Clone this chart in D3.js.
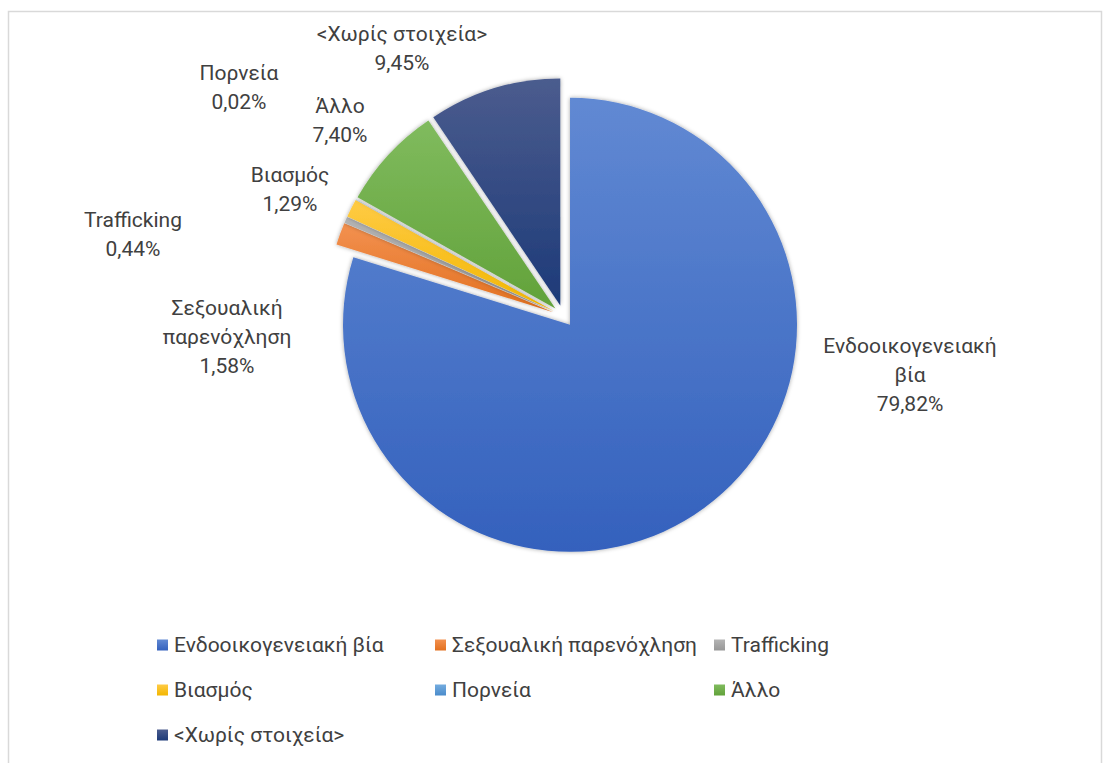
<!DOCTYPE html>
<html>
<head>
<meta charset="utf-8">
<script src="https://cdn.jsdelivr.net/npm/d3@7"></script>
<style>
  html, body { margin: 0; padding: 0; background: #ffffff; }
  svg { display: block; }
  text { font-family: Roboto, "Noto Sans", "DejaVu Sans", sans-serif; fill: #404040; }
</style>
</head>
<body>
<svg id="chart" width="1103" height="763"></svg>
<script>
// ---- data ----
const categories = ["Ενδοοικογενειακή βία", "Σεξουαλική παρενόχληση", "Trafficking", "Βιασμός", "Πορνεία", "Άλλο", "<Χωρίς στοιχεία>"];
const labelNames = [["Ενδοοικογενειακή", "βία"], ["Σεξουαλική", "παρενόχληση"], ["Trafficking"], ["Βιασμός"], ["Πορνεία"], ["Άλλο"], ["<Χωρίς στοιχεία>"]];
const values = [79.82, 1.58, 0.44, 1.29, 0.02, 7.40, 9.45];

// ---- styles / layout (not data) ----
const baseColors = ["#4472C4", "#ED7D31", "#A5A5A5", "#FFC000", "#5B9BD5", "#70AD47", "#264478"];
const topColors  = ["#6189d3", "#f39150", "#b4b4b4", "#ffcb45", "#74acdf", "#80bb5e", "#4b5c8e"];
const botColors  = ["#3461bd", "#e2701f", "#979797", "#f2b600", "#4a8bcb", "#62a23a", "#1d3a78"];
const center = { x: 563.5, y: 316 };
const radius = 227;
const explode = 11;
const labelAnchors = [[910, 353], [227, 315], [133, 227], [290, 182], [239, 80], [340, 113], [402, 41]];
const lineH = 29;
const legendCols = [157, 435, 714];
const legendRows = [645, 690, 735];

const svg = d3.select("#chart");
const defs = svg.append("defs");

baseColors.forEach((c, i) => {
  const g = defs.append("linearGradient").attr("id", "grad" + i)
    .attr("x1", 0).attr("y1", 0).attr("x2", 0).attr("y2", 1);
  g.append("stop").attr("offset", "0%").attr("stop-color", topColors[i]);
  g.append("stop").attr("offset", "100%").attr("stop-color", botColors[i]);
});

const f = defs.append("filter").attr("id", "shadow")
  .attr("x", "-20%").attr("y", "-20%").attr("width", "140%").attr("height", "140%");
f.append("feDropShadow").attr("dx", 0).attr("dy", 0).attr("stdDeviation", 2.2)
  .attr("flood-color", "#000").attr("flood-opacity", 0.35);

// border
svg.append("rect").attr("x", 8.5).attr("y", 11.5).attr("width", 1093).attr("height", 800)
  .attr("fill", "#ffffff").attr("stroke", "#d9d9d9").attr("stroke-width", 1.5);

const pie = d3.pie().value(d => d).sort(null);
const arcs = pie(values);
const arc = d3.arc().innerRadius(0).outerRadius(radius);

const gPie = svg.append("g").attr("transform", `translate(${center.x},${center.y})`);
gPie.selectAll("path").data(arcs).enter().append("path")
  .attr("d", arc)
  .attr("fill", (d, i) => `url(#grad${i})`)
  .attr("filter", "url(#shadow)")
  .attr("transform", d => {
    const a = (d.startAngle + d.endAngle) / 2;
    return `translate(${explode * Math.sin(a)},${-explode * Math.cos(a)})`;
  });

// labels
const loc = d3.formatLocale({ decimal: ",", thousands: ".", grouping: [3], currency: ["", "€"] });
const fmt = loc.format(".2f");
const gLab = svg.append("g");
arcs.forEach((d, i) => {
  const lines = labelNames[i].concat([fmt(values[i]) + "%"]);
  const t = gLab.append("text").attr("text-anchor", "middle").style("font-size", "21px");
  lines.forEach((ln, k) => {
    t.append("tspan").attr("x", labelAnchors[i][0]).attr("y", labelAnchors[i][1] + k * lineH).text(ln);
  });
});

// legend
const gLeg = svg.append("g");
categories.forEach((c, i) => {
  const col = i % 3, row = Math.floor(i / 3);
  const x = legendCols[col], y = legendRows[row];
  gLeg.append("rect").attr("x", x).attr("y", y - 5.5).attr("width", 11).attr("height", 11)
    .attr("fill", `url(#grad${i})`);
  gLeg.append("text").attr("x", x + 17).attr("y", y).attr("dy", "0.35em")
    .style("font-size", "21px").text(c);
});
</script>
</body>
</html>
